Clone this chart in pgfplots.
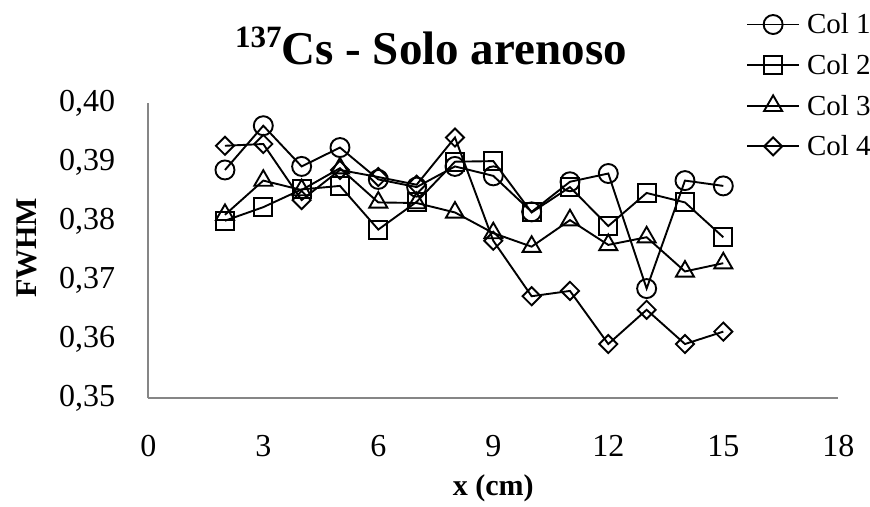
\documentclass[border=0pt]{standalone}
\usepackage{pgfplots}
\usepackage{pgfplotstable}
\pgfplotsset{compat=1.18}
\usepackage{fontspec}
\setmainfont{Liberation Serif}

\definecolor{axisgray}{RGB}{134,134,134}

% FWHM per column, x in cm
\pgfplotstableread{
x   c1      c2      c3      c4
2   0.3887  0.3801  0.3811  0.3928
3   0.3962  0.3824  0.3869  0.3931
4   0.3893  0.3854  0.3853  0.3836
5   0.3925  0.3860  0.3890  0.3887
6   0.3871  0.3786  0.3832  0.3875
7   0.3858  0.3833  0.3831  0.3862
8   0.3893  0.3901  0.3815  0.3942
9   0.3877  0.3902  0.3780  0.3767
10  0.3816  0.3815  0.3757  0.3673
11  0.3867  0.3858  0.3802  0.3682
12  0.3881  0.3792  0.3760  0.3592
13  0.3686  0.3848  0.3773  0.3650
14  0.3869  0.3832  0.3715  0.3592
15  0.3860  0.3773  0.3729  0.3613
}\fwhm

\begin{document}
\begin{tikzpicture}
\useasboundingbox (0,0) rectangle (870pt,506pt);
\begin{axis}[
  at={(148.3pt,107.7pt)}, anchor=south west,
  scale only axis, width=690pt, height=295pt,
  xmin=0, xmax=18, ymin=0.35, ymax=0.40,
  clip=false,
  axis x line*=bottom, axis y line*=left,
  axis line style={draw=axisgray, line width=2pt},
  xtick={0,3,6,9,12,15,18},
  ytick={0.35,0.36,0.37,0.38,0.39,0.40},
  major tick length=0pt,
  scaled y ticks=false,
  /pgf/number format/assume math mode=true,
  tick label style={font=\fontsize{32}{32}\selectfont},
  xticklabel style={anchor=north, inner sep=0pt, yshift=-37pt},
  yticklabel style={anchor=east, inner sep=0pt, xshift=-33pt},
  yticklabel style={/pgf/number format/.cd, fixed, fixed zerofill, precision=2, use comma},
  title={{\fontsize{31}{31}\selectfont\raisebox{17pt}{137}}Cs - Solo arenoso},
  title style={at={(axis description cs:0.4097,1.1095)}, anchor=base, yshift=0pt,
    font=\fontsize{47}{47}\selectfont\bfseries},
  xlabel={x (cm)},
  xlabel style={at={(axis description cs:0.5,-0.3278)}, anchor=base,
    font=\fontsize{30}{30}\selectfont\bfseries},
  ylabel={FWHM},
  ylabel style={at={(axis description cs:-0.1765,0.5095)}, anchor=center, rotate=0,
    font=\fontsize{30}{30}\selectfont\bfseries},
  legend style={at={(axis description cs:0.8662,1.3044)}, anchor=north west,
    draw=none, fill=none, inner sep=0pt, row sep=19pt,
    font=\fontsize{29}{29}\selectfont, nodes={inner sep=0pt}},
  legend cell align=left,
  /tikz/every odd column/.append style={column sep=7pt},
  legend image code/.code={
    \draw[mark repeat=2, mark phase=2, #1] plot coordinates {(0pt,0pt) (26pt,0pt) (52pt,0pt)};
  },
  every axis plot/.append style={black, line width=1.9pt},
]
\addplot[mark=o, mark size=9.5pt] table[x=x, y=c1] {\fwhm};
\addlegendentry{Col 1}
\addplot[mark=square, mark size=9pt] table[x=x, y=c2] {\fwhm};
\addlegendentry{Col 2}
\addplot[mark=triangle, mark size=10.4pt] table[x=x, y=c3] {\fwhm};
\addlegendentry{Col 3}
\addplot[mark=square, mark size=6.4pt, mark options={rotate=45}] table[x=x, y=c4] {\fwhm};
\addlegendentry{Col 4}
\end{axis}
\end{tikzpicture}
\end{document}
